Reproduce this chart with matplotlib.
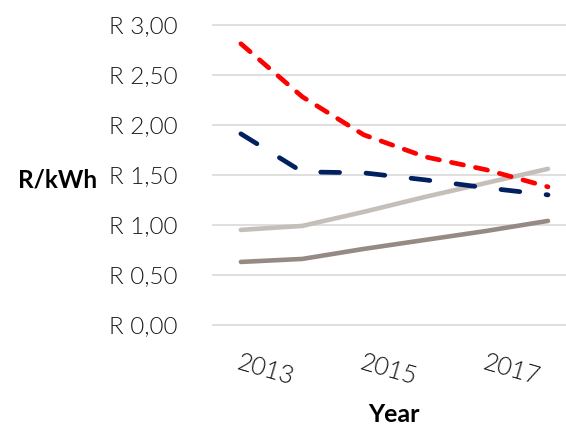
import matplotlib.pyplot as plt

# tariff paths in R/kWh per year
years = [2013, 2014, 2015, 2016, 2017, 2018]
red_path = [2.81, 2.28, 1.90, 1.68, 1.55, 1.38]
navy_path = [1.91, 1.53, 1.52, 1.45, 1.37, 1.30]
light_path = [0.95, 0.99, 1.13, 1.28, 1.42, 1.56]
dark_path = [0.63, 0.66, 0.76, 0.85, 0.94, 1.04]

y_ticks = [0.0, 0.5, 1.0, 1.5, 2.0, 2.5, 3.0]
y_tick_labels = ["R 0,00", "R 0,50", "R 1,00", "R 1,50", "R 2,00", "R 2,50", "R 3,00"]
x_tick_labels = ["2013", "2015", "2017"]

plt.rcParams['font.family'] = ['Lato', 'DejaVu Sans']

W, H = 566, 426
fig = plt.figure(figsize=(W / 100, H / 100), dpi=100)

# axes box in pixels
left, right = 212, 578.7
bottom, top = 330, 19.7
ax = fig.add_axes([left / W, 1 - bottom / H, (right - left) / W, (bottom - top) / H])

x = list(range(len(years)))

ax.plot(x, dark_path, color="#968b84", lw=3.3, solid_capstyle="round", zorder=3)
ax.plot(x, light_path, color="#c5bfb9", lw=3.3, solid_capstyle="round", zorder=3)
ax.plot(x, navy_path, color="#002060", lw=3.4, dashes=(4.0, 5.6),
        dash_capstyle="round", zorder=4)
ax.plot(x, red_path, color="#ff0000", lw=3.4, dashes=(2.6, 2.6),
        dash_capstyle="round", zorder=5)

ax.set_xlim(-0.47, 5.5)
ax.set_ylim(-0.05, 3.05)

ax.set_yticks(y_ticks)
ax.set_yticklabels(y_tick_labels, fontsize=17.5, fontweight=300, color="#1a1a1a")
ax.yaxis.grid(True, color="#d9d9d9", lw=1.2)
ax.set_axisbelow(True)

ax.set_xticks([0, 2, 4])
ax.set_xticklabels(x_tick_labels, fontsize=18, fontweight=300, rotation=-16,
                   ha="left", va="top", rotation_mode="anchor", color="#111111")

ax.tick_params(axis="y", length=0, pad=25)
ax.tick_params(axis="x", length=0, pad=15)

for s in ax.spines.values():
    s.set_visible(False)

ax_h = bottom - top
ax.set_ylabel("R/kWh", fontsize=17.5, fontweight="bold", rotation=0, ha="left", va="center")
ax.yaxis.set_label_coords((18 - left) / (right - left), (bottom - 5 - 175) / ax_h)
ax.set_xlabel("Year", fontsize=18, fontweight="bold", va="center")
ax.xaxis.set_label_coords((394 - left) / (right - left), (bottom - 415) / ax_h)

fig.savefig("out.png", dpi=100)
